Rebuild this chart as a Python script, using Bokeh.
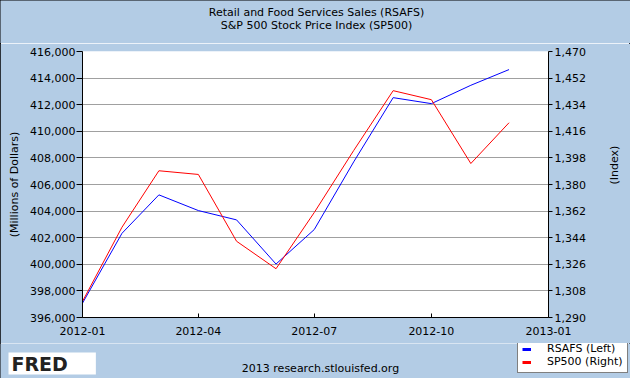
import math
import pandas as pd
from bokeh.plotting import figure
from bokeh.layouts import column
from bokeh.models import (Range1d, LinearAxis, FixedTicker, NumeralTickFormatter,
                          DatetimeTickFormatter, Label, Legend, LegendItem, ColumnDataSource)
from bokeh.embed import file_html
from bokeh.resources import INLINE

# ---- data ----
months = ["2012-01-01", "2012-02-01", "2012-03-01", "2012-04-01", "2012-05-01", "2012-06-01",
          "2012-07-01", "2012-08-01", "2012-09-01", "2012-10-01", "2012-11-01", "2012-12-01"]
rsafs = [397080, 402330, 405220, 404040, 403340, 400020,
         402610, 407700, 412530, 412080, 413460, 414640]
sp500 = [1300.9, 1351.1, 1389.3, 1386.8, 1341.6, 1323.0,
         1361.0, 1403.0, 1443.5, 1437.4, 1394.2, 1421.8]
x_tick_dates = ["2012-01-01", "2012-04-01", "2012-07-01", "2012-10-01", "2013-01-01"]
left_ticks = [396000, 398000, 400000, 402000, 404000, 406000,
              408000, 410000, 412000, 414000, 416000]
right_ticks = [1290, 1308, 1326, 1344, 1362, 1380, 1398, 1416, 1434, 1452, 1470]
title_lines = ["Retail and Food Services Sales (RSAFS)", "S&P 500 Stock Price Index (SP500)"]
left_label = "(Millions of Dollars)"
right_label = "(Index)"
series_names = ["RSAFS (Left)", "SP500 (Right)"]
credit = "2013 research.stlouisfed.org"
logo_text = "FRED"

BG = "#B3CCE5"
FONT = "DejaVu Sans"
BLUE = "#0000FF"
RED = "#FF0000"
W = 630

dates = pd.to_datetime(months)
tick_ms = [int(t) // 10**6 for t in pd.to_datetime(x_tick_dates).astype("int64")]
src = ColumnDataSource(dict(x=dates, rsafs=rsafs, sp500=sp500))

def bare(height, y0, y1):
    f = figure(width=W, height=height, x_range=Range1d(0, W), y_range=Range1d(y1, y0),
               output_backend="svg", toolbar_location=None, frame_align=False,
               x_axis_location=None, y_axis_location=None,
               min_border=0, min_border_left=0, min_border_right=0,
               min_border_top=0, min_border_bottom=0,
               background_fill_color=BG, border_fill_color=BG, outline_line_color=None)
    f.grid.visible = False
    return f

def lab(fig, x, y, text, **kw):
    opts = dict(x=x, y=y, text=text, text_font=FONT, text_font_size="11px",
                text_color="black", text_align="center", text_baseline="middle")
    opts.update(kw)
    fig.add_layout(Label(**opts))

# ---- header with the two title lines ----
hdr = bare(43, 0, 43)
lab(hdr, 316, 12, title_lines[0])
lab(hdr, 316, 25, title_lines[1])

# ---- main chart ----
p = figure(width=W, height=300, x_axis_type="datetime", frame_align=False,
           x_range=Range1d(pd.Timestamp(x_tick_dates[0]), pd.Timestamp(x_tick_dates[-1])),
           y_range=Range1d(left_ticks[0], left_ticks[-1]),
           output_backend="svg", toolbar_location=None,
           min_border_left=82, min_border_right=81, min_border_top=8, min_border_bottom=26,
           background_fill_color="white", border_fill_color=BG, outline_line_color=None)
p.extra_y_ranges = {"sp": Range1d(right_ticks[0], right_ticks[-1])}
p.xgrid.visible = False
p.ygrid.grid_line_color = "#A0A0A0"
p.ygrid.grid_line_width = 1

def style_axis(ax, tin, tout, standoff):
    ax.major_tick_in = tin
    ax.major_tick_out = tout
    ax.minor_tick_line_color = None
    ax.axis_line_color = "black"
    ax.major_tick_line_color = "black"
    ax.major_label_standoff = standoff
    ax.major_label_text_font = FONT
    ax.major_label_text_font_size = "11px"
    ax.major_label_text_color = "black"
    ax.axis_label_text_font = FONT
    ax.axis_label_text_font_size = "11px"
    ax.axis_label_text_font_style = "normal"
    ax.axis_label_text_color = "black"

xa = p.xaxis[0]
xa.ticker = FixedTicker(ticks=tick_ms)
xa.formatter = DatetimeTickFormatter(days="%Y-%m", months="%Y-%m", years="%Y-%m")
style_axis(xa, 4, 0, 9)

ya = p.yaxis[0]
ya.ticker = FixedTicker(ticks=left_ticks)
ya.formatter = NumeralTickFormatter(format="0,0")
style_axis(ya, 0, 6, 1)
ya.axis_label = left_label
ya.axis_label_standoff = 6

ra = LinearAxis(y_range_name="sp", ticker=FixedTicker(ticks=right_ticks),
                formatter=NumeralTickFormatter(format="0,0"))
style_axis(ra, 0, 4, 2)
ra.axis_label = right_label
ra.axis_label_standoff = 26
ra.axis_label_orientation = math.pi / 2
p.add_layout(ra, "right")

p.line("x", "rsafs", source=src, line_color=BLUE, line_width=1)
p.line("x", "sp500", source=src, line_color=RED, line_width=1, y_range_name="sp")

# ---- footer: logo, credit, legend ----
ftr = bare(35, 343, 378)
lab(ftr, 320, 368, credit)
lab(ftr, 8, 363, logo_text, text_font_size="19px", text_font_style="bold",
    text_align="left", text_color="#222222", background_fill_color="white",
    padding={"left": 3, "right": 28, "top": 0, "bottom": 0})

# legend keys: the same series (their dates fall far outside this strip's range,
# so only the legend swatches show)
k1 = ftr.line("x", "rsafs", source=src, line_color=BLUE, line_width=3)
k2 = ftr.line("x", "sp500", source=src, line_color=RED, line_width=3)
legend = Legend(items=[LegendItem(label=series_names[0], renderers=[k1]),
                       LegendItem(label=series_names[1], renderers=[k2])],
                location=(517, 5), orientation="vertical",
                border_line_color="black", border_line_width=1,
                background_fill_color="white", background_fill_alpha=1,
                label_text_font=FONT, label_text_font_size="11px", label_text_color="black",
                padding=4, margin=0, spacing=0, glyph_width=9, glyph_height=12,
                label_height=12, label_standoff=16)
ftr.add_layout(legend)

page = column(hdr, p, ftr, spacing=0)
page.styles = {"outline": "1px solid black", "outline-offset": "-1px"}

open("out.html", "w").write(file_html(page, INLINE))
